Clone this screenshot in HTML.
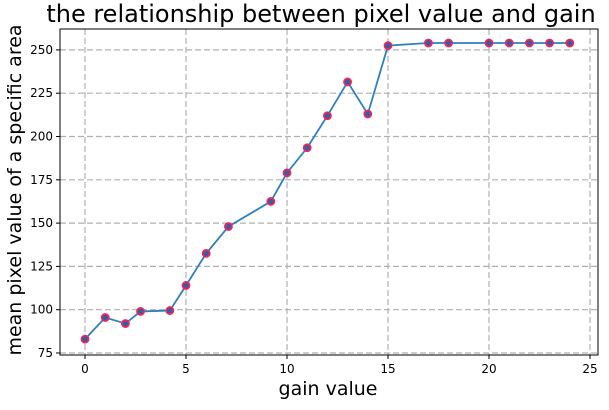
<!DOCTYPE html>
<html><head><meta charset="utf-8"><style>
body{margin:0;background:#fff;width:609px;height:405px;overflow:hidden}
text{font-family:"DejaVu Sans","Liberation Sans",sans-serif}
</style></head><body>
<svg id="chart" width="609" height="405" xmlns="http://www.w3.org/2000/svg">
<text x="321" y="22" font-size="24" text-anchor="middle" fill="#000">the relationship between pixel value and gain</text>
<g id="grid"></g>
<g id="ticks"></g>
<rect x="60" y="29" width="538" height="326" fill="none" stroke="#000" stroke-width="1"/>
<text x="328" y="395" font-size="19" text-anchor="middle">gain value</text>
<text transform="translate(21,190) rotate(-90)" font-size="19" text-anchor="middle">mean pixel value of a specific area</text>
<g id="series"></g>
</svg>
<script>
const gainValues=[0,1,2,2.75,4.2,5,6,7.1,9.2,10,11,12,13,14,15,17,18,20,21,22,23,24];
const pixelValues=[83,95.5,92,99,99.5,114,132.5,148,162.5,179,193.5,212,231.5,213,252.5,254,254,254,254,254,254,254];
const xTicks=[0,5,10,15,20,25];
const yTicks=[75,100,125,150,175,200,225,250];
const NS="http://www.w3.org/2000/svg";
const L=60,R=598,T=29,B=355;
const xs=v=>85+v*20.2;
const ys=v=>353-(v-75)*(43.3/25);
function mk(t,a,p){const e=document.createElementNS(NS,t);for(const k in a)e.setAttribute(k,a[k]);p.appendChild(e);return e;}
const grid=document.getElementById('grid'),ticks=document.getElementById('ticks'),ser=document.getElementById('series');
xTicks.forEach(v=>{const x=xs(v);
 const g=mk('line',{x1:x,x2:x,y1:T,y2:B,stroke:'#b0b0b0','stroke-dasharray':'6,3','stroke-width':1.2},grid);
 
 
 mk('line',{x1:x,x2:x,y1:B,y2:B+4,stroke:'#000'},ticks);
 const t=mk('text',{x:x,y:B+18,'font-size':12,'text-anchor':'middle'},ticks);t.textContent=v;
 
 
});
yTicks.forEach(v=>{const y=ys(v);
 const g=mk('line',{x1:L,x2:R,y1:y,y2:y,stroke:'#b0b0b0','stroke-dasharray':'6,3','stroke-width':1.2},grid);
 
 
 mk('line',{x1:L-4,x2:L,y1:y,y2:y,stroke:'#000'},ticks);
 const t=mk('text',{x:L-7,y:y+4,'font-size':12,'text-anchor':'end'},ticks);t.textContent=v;
 
 
});
const pl=mk('polyline',{points:gainValues.map((g,i)=>xs(g)+','+ys(pixelValues[i])).join(' '),fill:'none',stroke:'#2f7fc1','stroke-width':1.8},ser);


gainValues.forEach((g,i)=>{const c=mk('circle',{cx:xs(g),cy:ys(pixelValues[i]),r:3.5,fill:'#2f5fa8',stroke:'#f0245a','stroke-width':1.8},ser);
 
 
});
</script>
</body></html>
